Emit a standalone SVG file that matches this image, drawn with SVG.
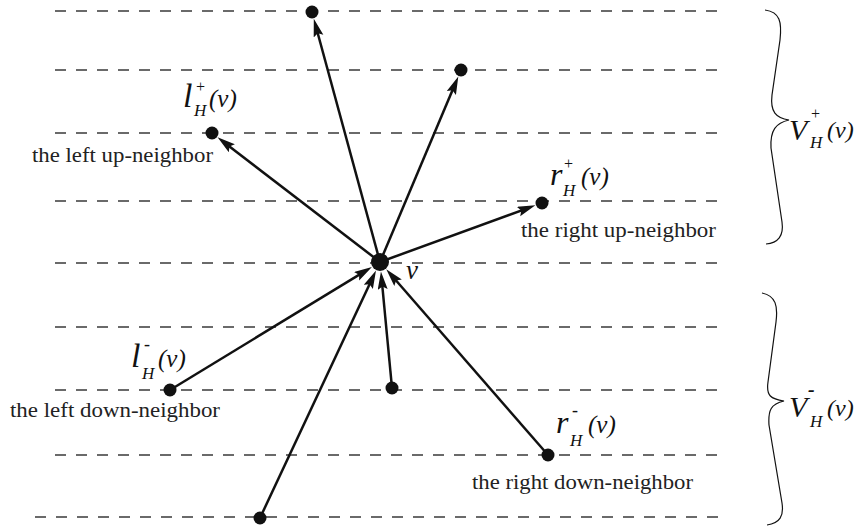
<svg xmlns="http://www.w3.org/2000/svg" width="858" height="526" viewBox="0 0 858 526">
<style>
.grid line{stroke:#3a3a3a;stroke-width:1.5;stroke-dasharray:11 10;fill:none}
.conn line{stroke:#111;stroke-width:2.5}
.nd{fill:#111}
.t{font-family:"Liberation Serif","Times New Roman",serif;font-size:22px;fill:#222}
.m{font-family:"Liberation Serif","Times New Roman",serif;font-style:italic;fill:#111}
.brace{fill:none;stroke:#111;stroke-width:1.2}
</style>
<defs>
<marker id="ah" markerUnits="userSpaceOnUse" markerWidth="20" markerHeight="12" refX="10" refY="5" orient="auto">
<path d="M0,0 L18,5 L0,10 L3,5 z" fill="#111"/>
</marker>
</defs>
<rect width="858" height="526" fill="#fff"/>
<g class="grid">
<line x1="55" y1="11" x2="722" y2="11"/>
<line x1="55" y1="70" x2="722" y2="70"/>
<line x1="55" y1="133" x2="722" y2="133"/>
<line x1="55" y1="201" x2="722" y2="201"/>
<line x1="55" y1="263" x2="722" y2="263"/>
<line x1="55" y1="327" x2="722" y2="327"/>
<line x1="55" y1="390" x2="722" y2="390"/>
<line x1="55" y1="455" x2="722" y2="455"/>
<line x1="35" y1="517" x2="722" y2="517"/>
</g>
<g id="connectors" class="conn">
<line x1="380" y1="262" x2="315.9" y2="26.5" marker-end="url(#ah)"/>
<line x1="380" y1="262" x2="455.2" y2="83.8" marker-end="url(#ah)"/>
<line x1="380" y1="262" x2="223.9" y2="142.2" marker-end="url(#ah)"/>
<line x1="380" y1="262" x2="527.9" y2="208.1" marker-end="url(#ah)"/>
<line x1="170" y1="390" x2="365.1" y2="271.1" marker-end="url(#ah)"/>
<line x1="392" y1="388" x2="381.7" y2="279.5" marker-end="url(#ah)"/>
<line x1="548" y1="455" x2="391.5" y2="275.2" marker-end="url(#ah)"/>
<line x1="260" y1="518" x2="372.6" y2="277.8" marker-end="url(#ah)"/>
</g>
<g id="v">
<circle class="nd" cx="380" cy="262" r="9"/>
<text class="m" x="406" y="279" font-size="27">v</text>
</g>
<g id="top"><circle class="nd" cx="312" cy="12" r="6.5"/></g>
<g id="up2"><circle class="nd" cx="461" cy="70" r="6.5"/></g>
<g id="lplus">
<circle class="nd" cx="212" cy="133" r="6.5"/>
<text class="m" x="183" y="107" font-size="34">l</text>
<text class="m" x="195" y="92" font-size="16">+</text>
<text class="m" x="194" y="116" font-size="17">H</text>
<text class="m" x="209" y="107" font-size="25">(v)</text>
<text class="t" x="32" y="162" textLength="181" lengthAdjust="spacingAndGlyphs">the left up-neighbor</text>
</g>
<g id="rplus">
<circle class="nd" cx="542" cy="203" r="6.5"/>
<text class="m" x="550" y="185" font-size="32">r</text>
<text class="m" x="563" y="169" font-size="16">+</text>
<text class="m" x="563" y="196" font-size="17">H</text>
<text class="m" x="581" y="185" font-size="25">(v)</text>
<text class="t" x="521" y="237" textLength="195" lengthAdjust="spacingAndGlyphs">the right up-neighbor</text>
</g>
<g id="lminus">
<circle class="nd" cx="170" cy="390" r="6.5"/>
<text class="m" x="131" y="367" font-size="34">l</text>
<text class="m" x="144" y="350" font-size="18">-</text>
<text class="m" x="142" y="379" font-size="17">H</text>
<text class="m" x="158" y="367" font-size="25">(v)</text>
<text class="t" x="10" y="417" textLength="210" lengthAdjust="spacingAndGlyphs">the left down-neighbor</text>
</g>
<g id="down2"><circle class="nd" cx="392" cy="388" r="6.5"/></g>
<g id="rminus">
<circle class="nd" cx="548" cy="455" r="6.5"/>
<text class="m" x="556" y="433" font-size="32">r</text>
<text class="m" x="572" y="416" font-size="18">-</text>
<text class="m" x="570" y="446" font-size="17">H</text>
<text class="m" x="588" y="433" font-size="25">(v)</text>
<text class="t" x="472" y="489" textLength="221" lengthAdjust="spacingAndGlyphs">the right down-neighbor</text>
</g>
<g id="bottom"><circle class="nd" cx="260" cy="518" r="6.5"/></g>
<g id="Vplus">
<path class="brace" d="M765,10 C780,12 782,22 780,40 L772,95 C770,112 776,118 789,120 C776,123 770,130 771,148 L782,222 C784,236 778,243 766,244"/>
<text class="m" x="789" y="140" font-size="30">V</text>
<text class="m" x="810" y="119" font-size="16">+</text>
<text class="m" x="810" y="148" font-size="17">H</text>
<text class="m" x="827" y="138" font-size="24">(v)</text>
</g>
<g id="Vminus">
<path class="brace" d="M762,293 C776,296 778,306 776,322 L768,382 C766,396 771,399 784,401 C771,404 768,410 769,425 L782,503 C784,516 780,523 767,525"/>
<text class="m" x="789" y="417" font-size="30">V</text>
<text class="m" x="808" y="396" font-size="20" font-weight="bold">-</text>
<text class="m" x="810" y="427" font-size="17">H</text>
<text class="m" x="827" y="416" font-size="24">(v)</text>
</g>
</svg>
